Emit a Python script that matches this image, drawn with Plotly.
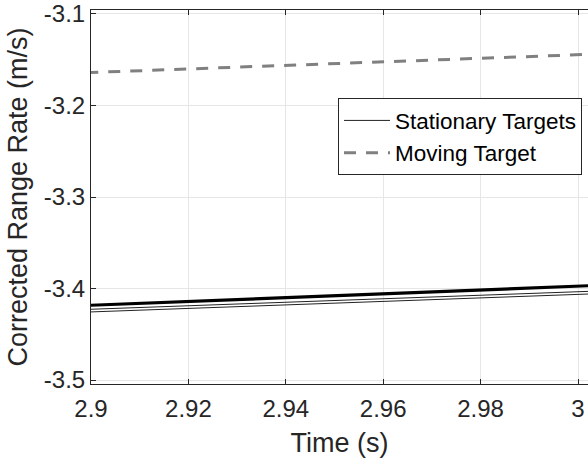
import plotly.graph_objects as go

# ---- data ----
time_s = [2.89, 3.01]
stationary_thick = [-3.4204, -3.3953]
stationary_thin1 = [-3.4246, -3.4016]
stationary_thin2 = [-3.4275, -3.4045]
moving_target = [-3.1659, -3.1426]

x_ticks = [2.9, 2.92, 2.94, 2.96, 2.98, 3.0]
x_ticktext = ["2.9", "2.92", "2.94", "2.96", "2.98", "3"]
y_ticks = [-3.5, -3.4, -3.3, -3.2, -3.1]
y_ticktext = ["-3.5", "-3.4", "-3.3", "-3.2", "-3.1"]

W, H = 588, 463
L, R, T, B = 91, 0, 7, 79
AX = "#262626"
FONT = "Liberation Sans, Arial, sans-serif"

fig = go.Figure()
fig.add_trace(go.Scatter(x=time_s, y=stationary_thin1, mode="lines",
                         line=dict(color="#222222", width=1),
                         name="Stationary Targets", showlegend=True))
fig.add_trace(go.Scatter(x=time_s, y=stationary_thin2, mode="lines",
                         line=dict(color="#222222", width=1),
                         name="Stationary Targets", showlegend=False))
fig.add_trace(go.Scatter(x=time_s, y=stationary_thick, mode="lines",
                         line=dict(color="#000000", width=3.2),
                         name="Stationary Targets", showlegend=False))
fig.add_trace(go.Scatter(x=time_s, y=moving_target, mode="lines",
                         line=dict(color="#808080", width=3, dash="12px,10px"),
                         name="Moving Target"))

pw = W - L - R
ph = H - T - B
leg_x = (338 - L) / pw
leg_y = 1 - (96 - T) / ph

fig.update_layout(
    width=W, height=H,
    margin=dict(l=L, r=R, t=T, b=B, pad=0),
    paper_bgcolor="white", plot_bgcolor="white",
    font=dict(family=FONT, color=AX, size=24),
    legend=dict(x=leg_x, y=leg_y, xanchor="left", yanchor="top",
                bgcolor="white", bordercolor=AX, borderwidth=1,
                font=dict(size=22.5, color="#000000"), traceorder="normal",
                tracegroupgap=0, itemwidth=46),
    xaxis=dict(range=[2.9, 2.9 + pw / 4870.0], tickvals=x_ticks, ticktext=x_ticktext,
               showgrid=True, gridcolor="#e6e6e6", gridwidth=1,
               showline=True, linecolor=AX, linewidth=1, mirror="ticks",
               ticks="inside", ticklen=5, tickcolor=AX, zeroline=False,
               tickfont=dict(size=24, color=AX), ticklabelstandoff=3,
               ticklabeloverflow="allow",
               title=dict(text="Time (s)", font=dict(size=27, color=AX), standoff=12)),
    yaxis=dict(range=[-3.50434, -3.09566], tickvals=y_ticks, ticktext=y_ticktext,
               showgrid=True, gridcolor="#e6e6e6", gridwidth=1,
               showline=True, linecolor=AX, linewidth=1,
               ticks="inside", ticklen=5, tickcolor=AX, zeroline=False,
               tickfont=dict(size=24, color=AX), ticklabeloverflow="allow",
               title=dict(text="Corrected Range Rate (m/s)", font=dict(size=27, color=AX), standoff=8)),
)

fig.write_html("out.html")
